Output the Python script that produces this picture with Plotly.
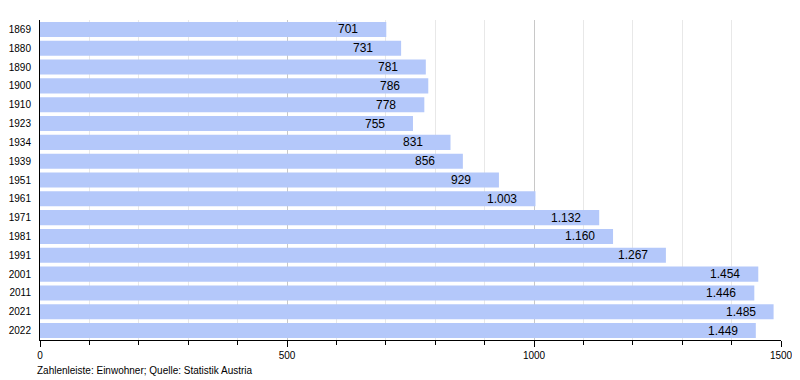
import plotly.graph_objects as go

years = ["1869", "1880", "1890", "1900", "1910", "1923", "1934", "1939", "1951",
         "1961", "1971", "1981", "1991", "2001", "2011", "2021", "2022"]
population = [701, 731, 781, 786, 778, 755, 831, 856, 929,
              1003, 1132, 1160, 1267, 1454, 1446, 1485, 1449]
footer = "Zahlenleiste: Einwohner; Quelle: Statistik Austria"


def de_fmt(v):
    return f"{v:,}".replace(",", ".")


fig = go.Figure()
fig.add_trace(go.Bar(
    x=population, y=years, orientation="h",
    marker=dict(color="rgb(180,200,250)", line=dict(width=0)),
    width=0.8, hoverinfo="x+y",
))

for i, v in enumerate(population):
    fig.add_annotation(x=v, y=i, text=de_fmt(v), showarrow=False,
                       xanchor="left", xshift=-50, yanchor="middle",
                       font=dict(family="Liberation Sans, Arial", size=12, color="black"))

fig.add_annotation(text=footer, xref="paper", yref="paper", x=-0.007, y=-0.072,
                   xanchor="left", yanchor="top", showarrow=False,
                   font=dict(family="Liberation Sans, Arial", size=10, color="black"))

fig.update_layout(
    width=792, height=372,
    margin=dict(l=32, r=19, t=12, b=40),
    plot_bgcolor="white", paper_bgcolor="white",
    showlegend=False, bargap=0.2,
    font=dict(family="Liberation Sans, Arial", size=10, color="black"),
    xaxis=dict(range=[0, 1500], dtick=500, tick0=0, showgrid=True,
               gridcolor="rgb(200,200,200)", gridwidth=1,
               ticks="outside", ticklen=6, tickcolor="black",
               showline=True, linecolor="black", linewidth=1,
               zeroline=False, automargin=False,
               minor=dict(dtick=100, showgrid=True, gridcolor="rgb(232,232,232)",
                          ticks="outside", ticklen=4, tickcolor="black")),
    yaxis=dict(type="category", range=[len(years) - 0.5, -0.5], showline=True,
               linecolor="black", linewidth=1, automargin=False,
               ticks="", showgrid=False, ticklabelstandoff=6),
)

fig.write_html("out.html")
